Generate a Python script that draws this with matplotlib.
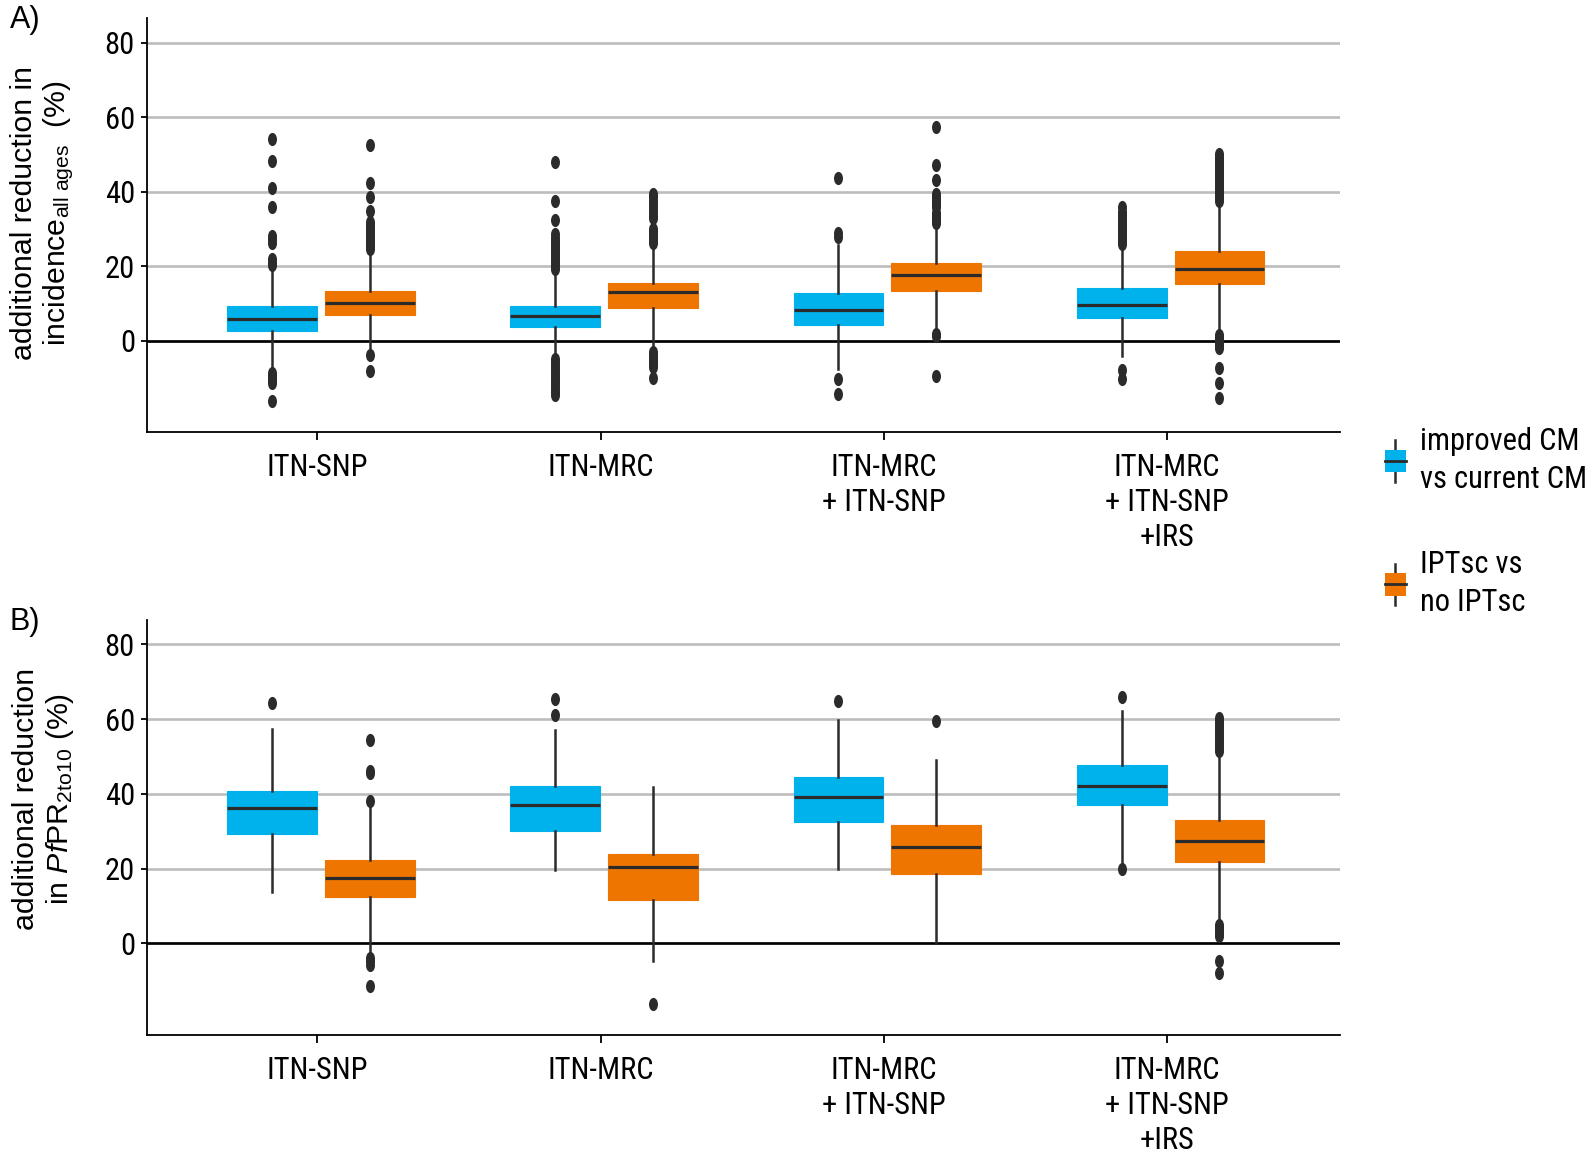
import matplotlib
matplotlib.use("Agg")
import matplotlib.pyplot as plt
from matplotlib import font_manager as fm
from matplotlib.path import Path
from matplotlib.transforms import Affine2D
from matplotlib.patches import Patch, Rectangle
from matplotlib.lines import Line2D
from matplotlib.legend_handler import HandlerBase

# ---- data ----
groups = ["ITN-SNP", "ITN-MRC", "ITN-MRC\n+ ITN-SNP", "ITN-MRC\n+ ITN-SNP\n+IRS"]
series = ["improved CM\nvs current CM", "IPTsc vs\nno IPTsc"]
colors = ["#00b2ec", "#ee7600"]

# A) incidence, improved CM vs current CM
inc_cm_med = [5.8, 6.7, 8.1, 9.5]
inc_cm_q1 = [2.5, 3.6, 4.1, 6.0]
inc_cm_q3 = [9.3, 9.3, 12.7, 14.0]
inc_cm_lo = [-7.3, -4.2, -7.7, -4.0]
inc_cm_hi = [19.5, 18.5, 25.6, 25.2]
inc_cm_fl = [
    [20.3, 21.0, 22.0, 26.3, 27.2, 28.0, 35.8, 41.0, 48.3, 54.2,
     -8.6, -9.3, -10.0, -10.6, -11.3, -16.2],
    [19.2, 19.8, 20.5, 21.0, 21.6, 22.3, 23.0, 23.8, 24.5, 25.2, 26.0, 26.8,
     27.6, 28.5, 32.5, 37.5, 48.0,
     -5.0, -5.8, -6.6, -7.4, -8.2, -9.0, -9.8, -10.6, -11.4, -12.2, -13.0,
     -13.8, -14.6],
    [27.8, 29.0, 43.6, -10.2, -14.4],
    [26.0, 26.7, 27.4, 28.1, 28.8, 29.5, 30.2, 30.9, 31.6, 32.3, 33.0, 33.8,
     34.6, 35.8, -8.0, -10.2],
]
# A) incidence, IPTsc vs no IPTsc
inc_ipt_med = [10.1, 13.1, 17.5, 19.1]
inc_ipt_q1 = [6.8, 8.8, 13.3, 15.1]
inc_ipt_q3 = [13.4, 15.6, 20.9, 24.1]
inc_ipt_lo = [-2.0, -2.0, 2.5, 2.2]
inc_ipt_hi = [24.0, 25.5, 31.0, 37.0]
inc_ipt_fl = [
    [24.6, 25.3, 26.0, 26.7, 27.4, 28.1, 28.8, 29.5, 30.2, 31.0, 31.8, 34.7,
     38.5, 42.3, 52.6, -3.9, -8.1],
    [26.3, 27.0, 27.8, 28.6, 29.4, 30.0, 32.8, 33.5, 34.5, 35.5, 36.5, 37.5,
     38.5, 39.4, -3.0, -3.8, -4.6, -5.4, -6.2, -7.0, -10.0],
    [31.6, 32.2, 32.9, 33.6, 34.2, 35.8, 36.4, 37.1, 37.8, 38.6, 39.4, 43.1,
     47.2, 57.3, 1.8, 1.2, -9.6],
    [37.6, 38.3, 39.0, 39.7, 40.4, 41.1, 41.8, 42.5, 43.2, 43.9, 44.6, 45.3,
     46.0, 46.7, 47.4, 48.1, 48.8, 49.5, 50.0,
     1.6, 1.0, 0.4, -0.2, -0.8, -1.4, -2.0, -7.3, -11.4, -15.3],
]

# B) PfPR2to10, improved CM vs current CM
pr_cm_med = [36.25, 36.9, 39.1, 42.2]
pr_cm_q1 = [29.4, 30.2, 32.5, 37.05]
pr_cm_q3 = [40.9, 42.05, 44.6, 47.8]
pr_cm_lo = [13.75, 19.7, 20.0, 20.6]
pr_cm_hi = [57.4, 57.0, 59.7, 62.1]
pr_cm_fl = [[64.2], [65.5, 61.1], [64.8], [66.0, 20.0]]
# B) PfPR2to10, IPTsc vs no IPTsc
pr_ipt_med = [17.6, 20.4, 25.8, 27.5]
pr_ipt_q1 = [12.5, 11.7, 18.6, 21.9]
pr_ipt_q3 = [22.3, 24.0, 31.7, 33.1]
pr_ipt_lo = [-2.5, -4.8, 0.5, 5.6]
pr_ipt_hi = [36.7, 41.8, 49.1, 49.5]
pr_ipt_fl = [
    [38.2, 45.5, 46.1, 54.3, -3.8, -4.8, -5.7, -11.5],
    [-16.25],
    [59.5],
    [60.3, 59.5, 58.7, 57.9, 57.1, 56.3, 55.5, 54.7, 53.9, 53.1, 52.3, 51.4,
     5.0, 4.4, 3.8, 3.2, 2.6, 2.0, -4.6, -8.0],
]

# ---- fonts ----
names = {f.name for f in fm.fontManager.ttflist}
narrow = next((n for n in ["Liberation Sans Narrow", "Roboto Condensed",
                           "DejaVu Sans Condensed"] if n in names), None)
plt.rcParams["font.family"] = ["Liberation Sans", "DejaVu Sans"]
plt.rcParams["mathtext.fontset"] = "custom"
plt.rcParams["mathtext.rm"] = "Liberation Sans"
plt.rcParams["mathtext.it"] = "Liberation Sans:italic"
tick_font = [narrow, "Liberation Sans"] if narrow else ["Liberation Sans"]
tick_size = 22 if narrow else 19.5
leg_size = 22 if narrow else 19.0

dark = "#2b2b2b"
ell = Path.unit_circle().transformed(Affine2D().scale(0.68, 1.0))


def make_stats(med, q1, q3, lo, hi, fl):
    return [dict(med=med[i], q1=q1[i], q3=q3[i], whislo=lo[i], whishi=hi[i],
                 fliers=fl[i]) for i in range(len(med))]


def panel(ax, cm_stats, ipt_stats, ylabel, ly):
    pos = list(range(len(groups)))
    for stats, off, c in [(cm_stats, -0.16, colors[0]), (ipt_stats, 0.185, colors[1])]:
        ax.bxp(stats, positions=[p + off for p in pos], widths=0.317,
               patch_artist=True, showcaps=False, manage_ticks=False,
               boxprops=dict(facecolor=c, edgecolor=c, linewidth=0.8),
               medianprops=dict(color=dark, linewidth=2.3),
               whiskerprops=dict(color=dark, linewidth=1.8),
               flierprops=dict(marker=ell, markerfacecolor=dark,
                               markeredgecolor="none", markersize=9.5),
               zorder=3)
    ax.set_xlim(-0.6, 3.61)
    ax.set_ylim(-24.5, 86.5)
    ax.set_yticks([0, 20, 40, 60, 80])
    ax.yaxis.grid(True, color="#bdbdbd", linewidth=1.9)
    ax.set_axisbelow(True)
    ax.axhline(0, color="black", linewidth=1.9, zorder=2)
    ax.set_xticks(pos)
    ax.set_xticklabels(groups, linespacing=1.27)
    for lab in ax.get_xticklabels() + ax.get_yticklabels():
        lab.set_family(tick_font)
        lab.set_fontsize(tick_size)
    ax.tick_params(axis="y", length=4, width=1.3, pad=5)
    ax.tick_params(axis="x", length=6, width=1.3, pad=9)
    for s in ["top", "right"]:
        ax.spines[s].set_visible(False)
    for s in ["left", "bottom"]:
        ax.spines[s].set_linewidth(1.3)
    ax.set_ylabel(ylabel, fontsize=21.8, linespacing=1.15)
    ax.yaxis.set_label_coords(-0.06, ly)


class BoxHandler(HandlerBase):
    def create_artists(self, legend, orig_handle, xdescent, ydescent, width,
                       height, fontsize, trans):
        cx = width / 2 - xdescent
        cy = height / 2 - ydescent
        w, h, wh = 15, 16, 30
        c = orig_handle.get_facecolor()
        whisk = Line2D([cx, cx], [cy - wh / 2, cy + wh / 2], color=dark,
                       linewidth=1.8, transform=trans)
        box = Rectangle((cx - w / 2, cy - h / 2), w, h, facecolor=c,
                        edgecolor="none", transform=trans)
        med = Line2D([cx - w / 2, cx + w / 2], [cy, cy], color=dark,
                     linewidth=2.0, transform=trans)
        return [whisk, box, med]


fig = plt.figure(figsize=(15.94, 11.54), dpi=100)
axA = fig.add_axes([0.0925, 0.6257, 0.748, 0.3584])
axB = fig.add_axes([0.0925, 0.1031, 0.748, 0.3596])

panel(axA,
      make_stats(inc_cm_med, inc_cm_q1, inc_cm_q3, inc_cm_lo, inc_cm_hi, inc_cm_fl),
      make_stats(inc_ipt_med, inc_ipt_q1, inc_ipt_q3, inc_ipt_lo, inc_ipt_hi, inc_ipt_fl),
      "additional reduction in\nincidence$_{\\mathrm{all\\ ages}}$  (%)", 0.53)
panel(axB,
      make_stats(pr_cm_med, pr_cm_q1, pr_cm_q3, pr_cm_lo, pr_cm_hi, pr_cm_fl),
      make_stats(pr_ipt_med, pr_ipt_q1, pr_ipt_q3, pr_ipt_lo, pr_ipt_hi, pr_ipt_fl),
      "additional reduction\nin $\\mathit{Pf}$PR$_{\\mathrm{2to10}}$ (%)", 0.57)

fig.text(0.006, 0.996, "A)", fontsize=22, va="top", ha="left")
fig.text(0.006, 0.474, "B)", fontsize=22, va="top", ha="left")

handles = [Patch(facecolor=c) for c in colors]
leg = fig.legend(handles, series, loc="upper left", bbox_to_anchor=(0.8705, 0.63),
                 frameon=False, handler_map={Patch: BoxHandler()},
                 prop={"family": tick_font, "size": leg_size},
                 handlelength=0.5, handletextpad=0.57,
                 labelspacing=1.85, borderpad=0, borderaxespad=0)
for t in leg.get_texts():
    t.set_linespacing(1.38)

fig.savefig("out.png", dpi=100)
